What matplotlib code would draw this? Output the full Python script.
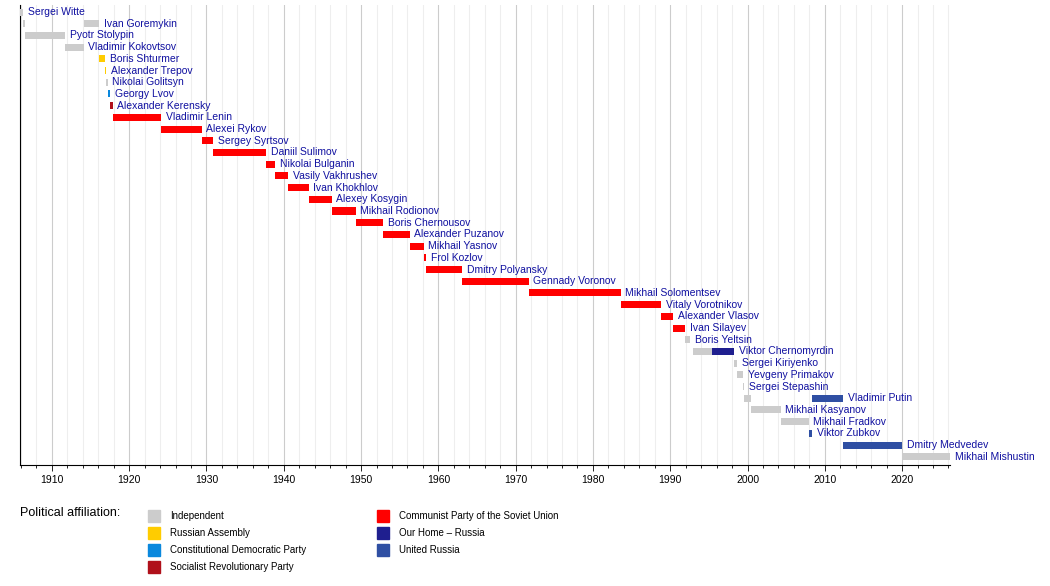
import matplotlib.pyplot as plt
from matplotlib.patches import Rectangle

plt.rcParams['font.family'] = ['Liberation Sans', 'DejaVu Sans']

party_colors = {
    "Independent": "#cccccc",
    "Russian Assembly": "#ffcc00",
    "Constitutional Democratic Party": "#0a88dd",
    "Socialist Revolutionary Party": "#b0101a",
    "Communist Party of the Soviet Union": "#ff0000",
    "Our Home – Russia": "#1f1f8f",
    "United Russia": "#2f4fa3",
}

names = ["Sergei Witte", "Ivan Goremykin", "Pyotr Stolypin", "Vladimir Kokovtsov",
         "Boris Shturmer", "Alexander Trepov", "Nikolai Golitsyn", "Georgy Lvov",
         "Alexander Kerensky", "Vladimir Lenin", "Alexei Rykov", "Sergey Syrtsov",
         "Daniil Sulimov", "Nikolai Bulganin", "Vasily Vakhrushev", "Ivan Khokhlov",
         "Alexey Kosygin", "Mikhail Rodionov", "Boris Chernousov", "Alexander Puzanov",
         "Mikhail Yasnov", "Frol Kozlov", "Dmitry Polyansky", "Gennady Voronov",
         "Mikhail Solomentsev", "Vitaly Vorotnikov", "Alexander Vlasov", "Ivan Silayev",
         "Boris Yeltsin", "Viktor Chernomyrdin", "Sergei Kiriyenko", "Yevgeny Primakov",
         "Sergei Stepashin", "Vladimir Putin", "Mikhail Kasyanov", "Mikhail Fradkov",
         "Viktor Zubkov", "Dmitry Medvedev", "Mikhail Mishustin"]

# (row, start, end, party)
terms = [
    (0, 1905.9, 1906.3, "Independent"),
    (1, 1906.3, 1906.5, "Independent"),
    (1, 1914.1, 1916.1, "Independent"),
    (2, 1906.5, 1911.7, "Independent"),
    (3, 1911.7, 1914.1, "Independent"),
    (4, 1916.1, 1916.9, "Russian Assembly"),
    (5, 1916.9, 1917.0, "Russian Assembly"),
    (6, 1917.0, 1917.2, "Independent"),
    (7, 1917.2, 1917.5, "Constitutional Democratic Party"),
    (8, 1917.5, 1917.85, "Socialist Revolutionary Party"),
    (9, 1917.85, 1924.1, "Communist Party of the Soviet Union"),
    (10, 1924.1, 1929.4, "Communist Party of the Soviet Union"),
    (11, 1929.4, 1930.9, "Communist Party of the Soviet Union"),
    (12, 1930.9, 1937.7, "Communist Party of the Soviet Union"),
    (13, 1937.7, 1938.9, "Communist Party of the Soviet Union"),
    (14, 1938.9, 1940.6, "Communist Party of the Soviet Union"),
    (15, 1940.6, 1943.2, "Communist Party of the Soviet Union"),
    (16, 1943.2, 1946.2, "Communist Party of the Soviet Union"),
    (17, 1946.2, 1949.3, "Communist Party of the Soviet Union"),
    (18, 1949.3, 1952.9, "Communist Party of the Soviet Union"),
    (19, 1952.9, 1956.3, "Communist Party of the Soviet Union"),
    (20, 1956.3, 1958.1, "Communist Party of the Soviet Union"),
    (21, 1958.1, 1958.4, "Communist Party of the Soviet Union"),
    (22, 1958.4, 1963.1, "Communist Party of the Soviet Union"),
    (23, 1963.1, 1971.7, "Communist Party of the Soviet Union"),
    (24, 1971.7, 1983.6, "Communist Party of the Soviet Union"),
    (25, 1983.6, 1988.8, "Communist Party of the Soviet Union"),
    (26, 1988.8, 1990.4, "Communist Party of the Soviet Union"),
    (27, 1990.4, 1991.9, "Communist Party of the Soviet Union"),
    (28, 1991.9, 1992.6, "Independent"),
    (29, 1992.9, 1995.4, "Independent"),
    (29, 1995.4, 1998.3, "Our Home – Russia"),
    (30, 1998.3, 1998.7, "Independent"),
    (31, 1998.7, 1999.4, "Independent"),
    (32, 1999.4, 1999.6, "Independent"),
    (33, 1999.6, 2000.4, "Independent"),
    (33, 2008.4, 2012.4, "United Russia"),
    (34, 2000.4, 2004.3, "Independent"),
    (35, 2004.3, 2007.9, "Independent"),
    (36, 2007.9, 2008.4, "United Russia"),
    (37, 2012.4, 2020.0, "United Russia"),
    (38, 2020.0, 2026.2, "Independent"),
]

fig = plt.figure(figsize=(10.5, 5.86), dpi=100)
ax = fig.add_axes([20 / 1050, 1 - 465 / 586, 930 / 1050, 460 / 586])

label_x = {}
for row, start, end, party in terms:
    ax.add_patch(Rectangle((start, row - 0.3), end - start, 0.6,
                           color=party_colors[party], lw=0, zorder=3))
    label_x[row] = max(label_x.get(row, 0), end)

for row, name in enumerate(names):
    ax.text(label_x[row] + 0.6, row, name, va="center", ha="left",
            fontsize=7.5, color="#1010a0", zorder=4)

ax.set_xlim(1905.87, 2026.2)
ax.set_ylim(38.7, -0.6)
ax.set_xticks(range(1910, 2021, 10))
ax.set_xticks(range(1906, 2027, 2), minor=True)
ax.grid(axis="x", which="major", color="#cccccc", lw=0.8, zorder=0)
ax.grid(axis="x", which="minor", color="#eeeeee", lw=0.8, zorder=0)
ax.set_yticks([])
ax.tick_params(axis="x", labelsize=7.5, length=4, width=0.6)
ax.tick_params(axis="x", which="minor", length=2, width=0.6)
for s in ["top", "right"]:
    ax.spines[s].set_visible(False)
ax.spines["left"].set_linewidth(0.8)
ax.spines["bottom"].set_linewidth(0.8)

# legend
fig.text(20 / 1050, 1 - 513 / 586, "Political affiliation:", fontsize=9, va="center")
legend_cols = [
    (148, ["Independent", "Russian Assembly", "Constitutional Democratic Party",
           "Socialist Revolutionary Party"]),
    (377, ["Communist Party of the Soviet Union", "Our Home – Russia", "United Russia"]),
]
for px, parties in legend_cols:
    for i, party in enumerate(parties):
        py = 516 + i * 17
        fig.patches.append(Rectangle((px / 1050, 1 - (py + 6) / 586), 12 / 1050, 12 / 586,
                                     transform=fig.transFigure, color=party_colors[party]))
        fig.text((px + 22) / 1050, 1 - py / 586, party, fontsize=7, va="center")

fig.savefig("out.png", dpi=100)
